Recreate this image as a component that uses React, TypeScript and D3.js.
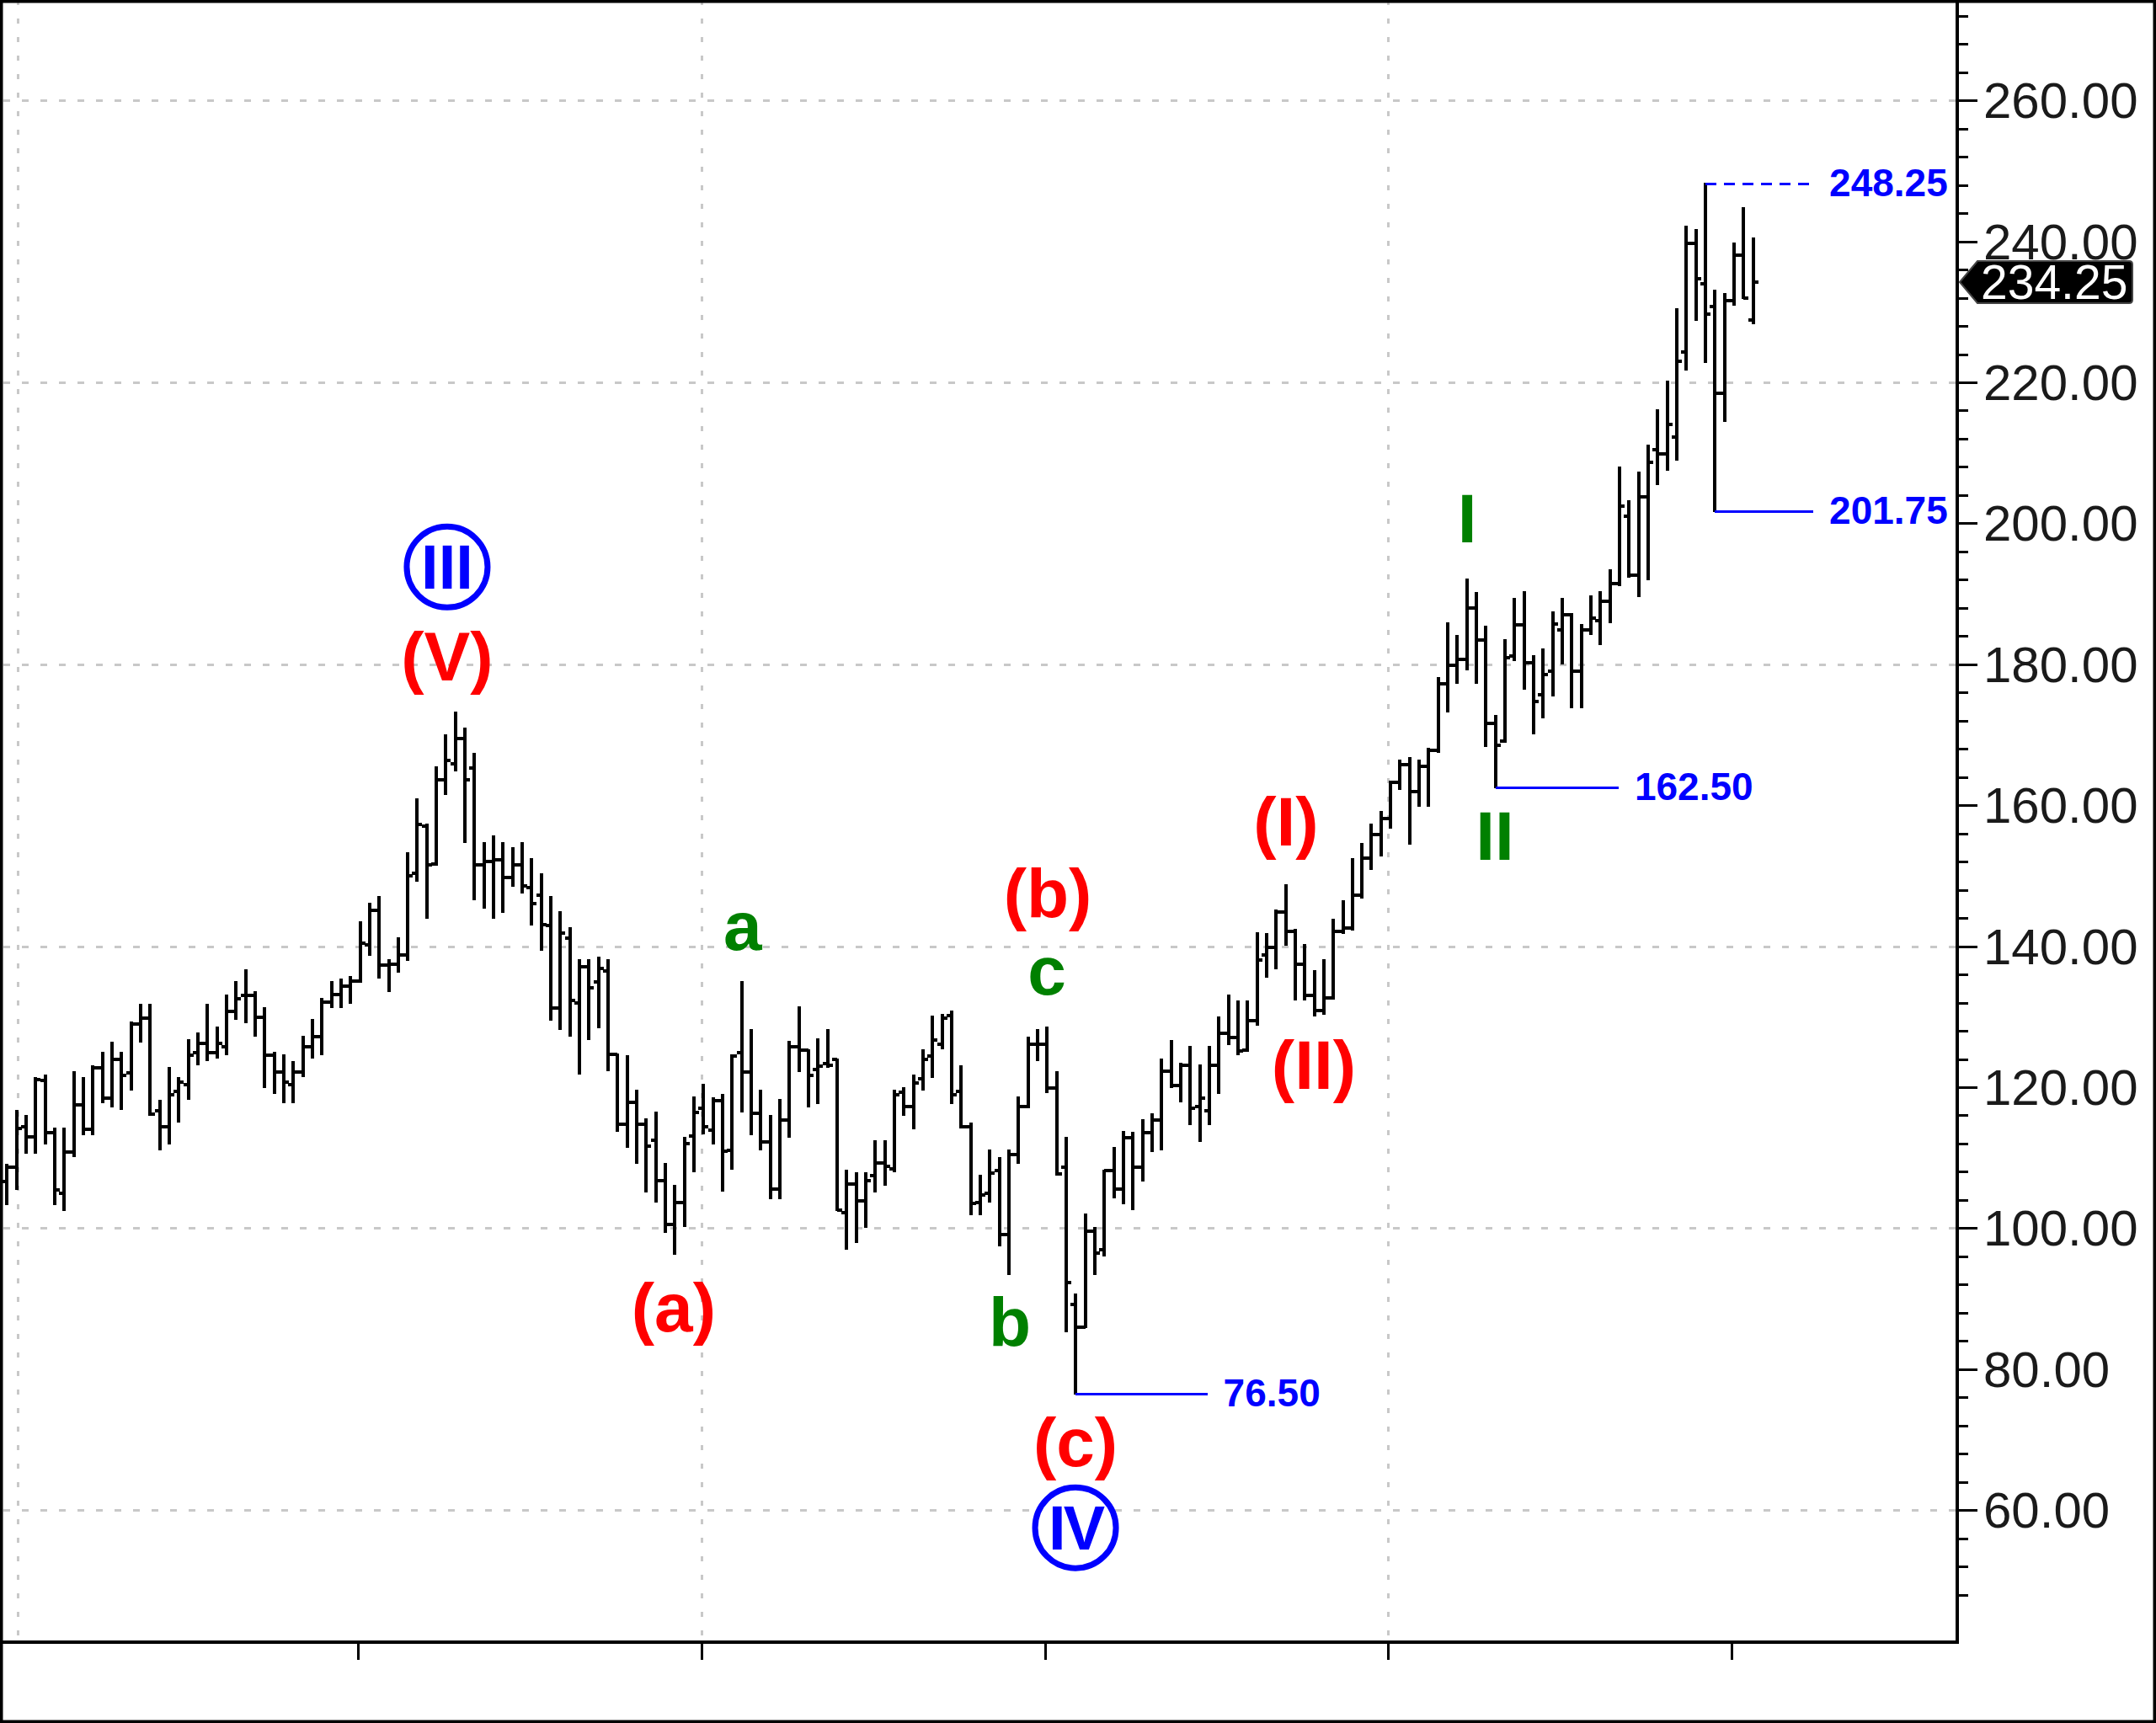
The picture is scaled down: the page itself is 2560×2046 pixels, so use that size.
import React from 'react';
import * as d3 from 'd3';

// ---- Data ----
const opens = [
  106.6, 108.6, 114.35, 113.0, 120.9, 113.5, 105.0, 110.8, 117.5, 114.0,
  122.7, 118.45, 123.9, 122.0, 129.0, 129.8, 116.6, 114.35, 119.4, 120.3,
  124.9, 126.2, 124.9, 125.7, 130.7, 133.0, 133.0, 129.9, 124.5, 122.1,
  120.4, 122.1, 125.7, 127.2, 132.1, 133.1, 134.3, 135.05, 140.2, 145.1,
  137.3, 137.4, 138.7, 150.4, 157.0, 151.7, 163.6, 165.9, 169.5, 165.3,
  151.6, 152.0, 152.3, 149.8, 151.5, 148.3, 147.2, 142.9, 131.2, 141.1,
  132.0, 137.1, 134.9, 136.5, 124.6, 114.8, 117.9, 114.8, 112.5, 106.7,
  100.5, 103.6, 113.1, 117.0, 113.9, 118.1, 111.0, 124.9, 122.1, 116.3,
  112.2, 105.5, 115.3, 125.7, 125.3, 122.5, 123.4, 124.0, 102.2, 106.3,
  103.9, 107.4, 109.3, 108.4, 119.3, 117.2, 121.2, 124.4, 126.1, 130.2,
  119.4, 114.4, 103.6, 104.9, 108.2, 99.1, 110.4, 117.2, 126.1, 126.1,
  119.9, 108.6, 89.2, 86.0, 99.6, 96.9, 108.2, 105.5, 112.8, 108.6,
  113.5, 115.4, 122.3, 120.2, 123.1, 117.2, 116.7, 123.1, 127.6, 127.1,
  125.3, 129.4, 138.7, 139.8, 144.9, 142.1, 137.5, 133.0, 130.9, 132.7,
  142.1, 142.6, 147.2, 152.5, 155.8, 158.1, 163.2, 165.7, 161.9, 165.5,
  167.8, 177.2, 179.8, 180.7, 188.0, 183.5, 171.6, 169.1, 181.2, 185.6,
  180.2, 175.7, 179.0, 184.9, 187.0, 179.0, 184.9, 186.2, 188.9, 191.5,
  201.0, 192.7, 203.7, 210.4, 209.9, 212.2, 224.3, 239.7, 234.0, 230.7,
  218.4, 231.6, 238.1, 228.9,
];
const highs = [
  109.0, 116.7, 115.9, 121.3, 121.7, 114.1, 114.1, 122.2, 121.3, 123.0,
  124.9, 126.3, 124.9, 129.2, 131.7, 131.7, 118.1, 122.7, 121.3, 126.7,
  127.6, 131.75, 128.5, 133.0, 134.9, 136.6, 133.5, 131.2, 124.9, 124.5,
  123.6, 127.2, 129.5, 132.6, 134.9, 135.3, 135.7, 143.4, 146.1, 147.0,
  138.0, 141.2, 153.2, 160.9, 157.3, 165.4, 170.0, 173.2, 170.9, 167.3,
  154.7, 155.6, 154.7, 153.9, 154.7, 152.4, 150.2, 147.0, 144.8, 142.6,
  138.0, 138.0, 138.4, 138.0, 124.6, 124.4, 119.5, 115.5, 116.4, 109.1,
  106.0, 112.8, 118.6, 120.3, 118.4, 118.9, 124.5, 134.9, 128.1, 119.5,
  115.9, 118.2, 126.4, 131.3, 125.3, 126.8, 128.1, 124.0, 108.2, 107.8,
  107.8, 112.3, 112.3, 119.5, 119.9, 121.7, 125.3, 130.0, 130.3, 130.7,
  123.0, 114.9, 107.4, 111.0, 110.0, 111.0, 118.6, 127.1, 128.1, 128.5,
  122.2, 112.8, 90.6, 101.9, 100.1, 108.2, 111.4, 113.7, 113.5, 115.4,
  116.2, 124.0, 126.6, 123.4, 125.7, 123.1, 125.7, 129.9, 133.0, 132.2,
  132.2, 141.9, 141.7, 145.1, 148.7, 142.3, 140.2, 136.5, 138.1, 143.8,
  146.4, 152.4, 154.5, 157.3, 159.1, 163.4, 166.3, 166.7, 166.3, 168.0,
  178.1, 185.8, 184.0, 192.0, 190.1, 185.4, 172.7, 183.5, 189.3, 190.2,
  181.2, 182.1, 187.4, 189.3, 187.1, 185.6, 189.7, 190.2, 193.4, 207.9,
  203.2, 207.2, 211.0, 216.0, 220.1, 230.4, 242.1, 241.6, 248.25, 233.0,
  232.6, 239.7, 244.7, 240.4,
];
const lows = [
  103.4, 105.6, 110.65, 110.65, 112.0, 103.4, 102.6, 110.25, 113.35, 113.35,
  117.8, 117.3, 116.9, 119.6, 126.5, 116.1, 111.1, 112.0, 115.1, 118.3,
  123.2, 123.8, 124.2, 124.6, 129.7, 129.2, 127.3, 120.0, 119.2, 117.8,
  117.8, 121.5, 124.2, 124.6, 131.3, 131.35, 131.9, 134.9, 138.7, 135.5,
  133.6, 136.4, 138.1, 149.3, 144.0, 151.6, 161.6, 164.9, 154.8, 146.7,
  145.4, 144.0, 144.9, 148.5, 147.6, 143.1, 139.5, 129.6, 128.2, 127.3,
  121.9, 126.8, 128.5, 122.4, 113.8, 111.5, 109.2, 105.2, 103.8, 99.5,
  96.3, 100.3, 108.0, 113.4, 112.0, 105.3, 108.4, 116.5, 113.3, 111.1,
  104.2, 104.2, 112.9, 122.3, 117.3, 117.7, 122.9, 102.5, 97.1, 98.0,
  100.2, 105.2, 106.1, 108.0, 116.0, 114.2, 119.6, 121.4, 125.5, 117.7,
  114.3, 102.0, 102.0, 103.8, 97.5, 93.5, 109.3, 117.1, 123.8, 119.3,
  107.6, 85.3, 76.5, 85.9, 93.5, 96.1, 104.4, 103.5, 102.7, 106.7,
  110.9, 111.2, 120.0, 118.0, 114.7, 112.4, 114.7, 119.2, 126.1, 124.6,
  125.1, 128.8, 135.6, 136.8, 140.2, 132.4, 132.4, 130.1, 130.4, 132.5,
  141.9, 142.3, 146.9, 150.9, 152.8, 156.8, 162.3, 154.5, 159.9, 159.9,
  167.6, 173.3, 177.4, 179.2, 177.3, 168.4, 162.5, 169.0, 180.6, 176.5,
  170.2, 172.4, 175.6, 180.1, 173.9, 173.9, 184.3, 182.9, 186.0, 191.2,
  192.4, 189.7, 192.0, 205.6, 207.6, 209.0, 221.8, 228.9, 222.9, 201.75,
  214.5, 231.0, 232.0, 228.4,
];
const closes = [
  108.6, 114.2, 113.0, 121.1, 113.5, 105.4, 110.8, 117.5, 114.0, 122.7,
  118.45, 123.9, 121.7, 129.0, 129.8, 116.2, 114.35, 118.9, 120.7, 124.5,
  126.2, 124.9, 126.2, 130.7, 132.5, 133.0, 129.9, 124.5, 122.1, 120.7,
  122.1, 125.7, 127.2, 132.1, 133.1, 134.3, 135.05, 140.4, 145.1, 137.3,
  137.4, 138.7, 150.0, 157.3, 151.6, 163.6, 166.3, 169.5, 163.6, 151.6,
  152.0, 152.3, 149.8, 151.5, 148.6, 146.0, 143.1, 131.2, 141.9, 132.3,
  137.1, 134.1, 136.8, 124.6, 114.8, 117.9, 114.8, 111.6, 106.7, 100.5,
  103.6, 112.0, 116.4, 114.4, 118.1, 110.9, 124.4, 122.1, 116.3, 112.2,
  105.5, 115.3, 125.7, 125.3, 121.7, 123.0, 123.1, 102.5, 106.3, 103.9,
  106.7, 109.3, 108.8, 118.9, 117.2, 120.6, 124.0, 126.7, 129.8, 118.9,
  114.4, 103.5, 104.7, 107.8, 99.1, 110.4, 117.2, 126.1, 126.1, 119.9,
  107.7, 92.3, 86.0, 99.6, 96.5, 108.2, 105.5, 112.8, 108.6, 113.5,
  115.4, 122.3, 120.2, 123.1, 117.0, 118.5, 123.1, 127.6, 127.1, 125.1,
  129.4, 138.1, 139.8, 144.9, 142.1, 137.5, 133.0, 130.9, 132.7, 142.1,
  142.6, 147.2, 152.5, 155.8, 158.1, 163.2, 165.7, 161.9, 165.5, 167.8,
  177.2, 179.8, 180.7, 188.0, 183.5, 171.6, 168.5, 180.9, 185.6, 180.2,
  174.7, 178.5, 185.7, 187.0, 179.0, 184.9, 186.5, 188.9, 191.5, 202.4,
  192.7, 203.7, 208.7, 209.9, 214.0, 223.0, 239.7, 234.7, 229.7, 218.4,
  231.6, 238.1, 232.0, 234.25,
];

const yTickValues = [60, 80, 100, 120, 140, 160, 180, 200, 220, 240, 260];
const yGridValues = [60, 100, 140, 180, 220, 260];
const xTickPositions = [36.8, 72.8, 108.8, 144.75, 180.7]; // in bar-index units
const xGridPositions = [1.1, 72.8, 144.75];
const lastPrice = 234.25;

// wave labels: [text, bar index, price at baseline, colour]
const waveLabels: [string, number, number, string][] = [
  ['(V)', 46.13, 177.7, 'red'],
  ['(a)', 69.87, 85.35, 'red'],
  ['a', 77.1, 139.5, 'green'],
  ['(b)', 109.07, 144.1, 'red'],
  ['c', 108.98, 133.1, 'green'],
  ['b', 105.1, 83.3, 'green'],
  ['(c)', 111.98, 66.2, 'red'],
  ['(I)', 134.04, 154.3, 'red'],
  ['(II)', 136.95, 119.8, 'red'],
  ['I', 153.02, 197.3, 'green'],
  ['II', 155.93, 152.3, 'green'],
];
// circled degree labels: [text, bar index, centre price]
const circleLabels: [string, number, number][] = [
  ['III', 46.13, 193.8],
  ['IV', 111.98, 57.5],
];
// price level markers: [bar index, price, line end index, dashed]
const levelMarks: [number, number, number, boolean][] = [
  [112, 76.5, 125.8, false],
  [156, 162.5, 168.9, false],
  [179, 201.75, 189.3, false],
  [178, 248.25, 189.3, true],
];

const COLORS: Record<string, string> = { red: '#ff0000', green: '#008000', blue: '#0000ff' };

export default function App() {
  const W = 2560;
  const H = 2046;
  const axisX = 2324;
  const axisY = 1950;
  const x = d3.scaleLinear().domain([0, 183]).range([8.3, 2081.7]);
  const y = d3.scaleLinear().domain([60, 260]).range([1793.2, 119.2]);
  const tick = 6;
  // crisp pixel helpers
  const px = (v: number) => Math.round(v) + 0.5; // odd widths
  const pe = (v: number) => Math.round(v); // even widths

  const minorTicks = d3.range(48, 273, 4).filter((v) => v % 20 !== 0);
  const bars = opens.map((o, i) => ({ o, h: highs[i], l: lows[i], c: closes[i], i }));

  const tagY = Math.round(y(lastPrice));
  const tagPath = `M${axisX + 3},${tagY} L${axisX + 24},${tagY - 25} L${2528},${tagY - 25} Q2532,${tagY - 25} 2532,${tagY - 21} L2532,${tagY + 21} Q2532,${tagY + 25} 2528,${tagY + 25} L${axisX + 24},${tagY + 25} Z`;

  const labelFont = "'Liberation Sans', Arial, Helvetica, sans-serif";

  return (
    <svg
      width={W}
      height={H}
      viewBox={`0 0 ${W} ${H}`}
      style={{ position: 'absolute', left: 0, top: 0, display: 'block', background: '#fff' }}
    >
      <rect x={0} y={0} width={W} height={H} fill="#fff" />
      {/* gridlines */}
      {yGridValues.map((v) => (
        <line key={'hg' + v} x1={4} x2={axisX - 2} y1={px(y(v))} y2={px(y(v))} stroke="#c8c8c8" strokeWidth={3} strokeDasharray="8 14" />
      ))}
      {xGridPositions.map((p) => (
        <line key={'vg' + p} x1={px(x(p))} x2={px(x(p))} y1={0} y2={axisY - 2} stroke="#c8c8c8" strokeWidth={3} strokeDasharray="6 16" />
      ))}

      {/* OHLC bars */}
      <g stroke="#000" strokeWidth={4} strokeLinecap="butt" shapeRendering="crispEdges">
        {bars.map((b) => {
          const cx = pe(x(b.i));
          return (
            <g key={b.i}>
              <line x1={cx} x2={cx} y1={pe(y(b.h)) - 1} y2={pe(y(b.l)) + 1} />
              <line x1={cx - tick} x2={cx} y1={pe(y(b.o))} y2={pe(y(b.o))} />
              <line x1={cx} x2={cx + tick} y1={pe(y(b.c))} y2={pe(y(b.c))} />
            </g>
          );
        })}
      </g>

      {/* price level markers */}
      {levelMarks.map(([bi, v, endIdx, dashed]) => (
        <g key={'lv' + v}>
          <line
            x1={pe(x(bi))}
            x2={x(endIdx)}
            y1={px(y(v))}
            y2={px(y(v))}
            stroke="#0000ff"
            strokeWidth={3}
            strokeDasharray={dashed ? '13 9' : undefined}
            shapeRendering="crispEdges"
          />
          <text
            x={x(endIdx) + 19}
            y={y(v) + 15}
            fontFamily={labelFont}
            fontWeight="bold"
            fontSize={46}
            fill="#0000ff"
          >
            {v.toFixed(2)}
          </text>
        </g>
      ))}

      {/* wave labels */}
      {waveLabels.map(([t, bi, v, col], k) => (
        <text
          key={'wl' + k}
          x={x(bi)}
          y={y(v)}
          textAnchor="middle"
          fontFamily={labelFont}
          fontWeight="bold"
          fontSize={82}
          fill={COLORS[col]}
        >
          {t}
        </text>
      ))}
      {circleLabels.map(([t, bi, v]) => (
        <g key={'cl' + t}>
          <circle cx={x(bi)} cy={y(v)} r={48} fill="#fff" stroke="#0000ff" strokeWidth={7} />
          <text
            x={x(bi)}
            y={y(v) + 26}
            textAnchor="middle"
            fontFamily={labelFont}
            fontWeight="bold"
            fontSize={74}
            fill="#0000ff"
            letterSpacing={t === 'III' ? 0 : -3}
          >
            {t}
          </text>
        </g>
      ))}

      {/* axes */}
      <line x1={0} x2={axisX + 2} y1={axisY} y2={axisY} stroke="#000" strokeWidth={4} />
      <line x1={axisX} x2={axisX} y1={0} y2={axisY + 2} stroke="#000" strokeWidth={4} />
      {xTickPositions.map((p) => (
        <line key={'xt' + p} x1={px(x(p))} x2={px(x(p))} y1={axisY} y2={axisY + 21} stroke="#000" strokeWidth={3} />
      ))}
      {minorTicks.map((v) => (
        <line key={'mt' + v} x1={axisX} x2={axisX + 13} y1={px(y(v))} y2={px(y(v))} stroke="#000" strokeWidth={3} />
      ))}
      {yTickValues.map((v) => (
        <g key={'yt' + v}>
          <line x1={axisX} x2={axisX + 24} y1={px(y(v))} y2={px(y(v))} stroke="#000" strokeWidth={3} />
          <text x={2355} y={y(v) + 21} fontFamily={labelFont} fontSize={60} fill="#1a1a1a">
            {v.toFixed(2)}
          </text>
        </g>
      ))}

      {/* last price tag */}
      <path d={tagPath} fill="#000" stroke="#444" strokeWidth={2} />
      <text x={2352} y={tagY + 20} fontFamily={labelFont} fontSize={57} fill="#fff">
        {lastPrice.toFixed(2)}
      </text>

      {/* outer frame */}
      <rect x={1.5} y={1.5} width={W - 3} height={H - 3} fill="none" stroke="#000" strokeWidth={4} />
    </svg>
  );
}
